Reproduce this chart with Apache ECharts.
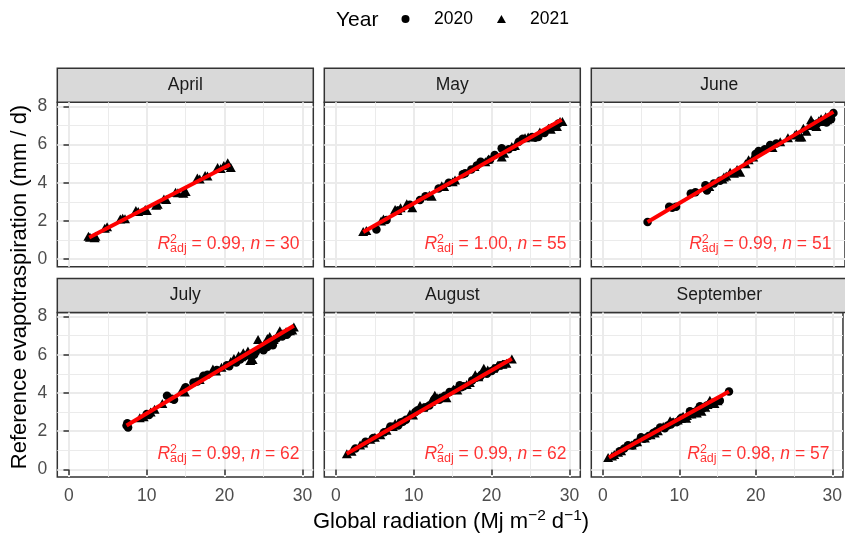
<!DOCTYPE html>
<html><head><meta charset="utf-8">
<script src="https://cdn.jsdelivr.net/npm/echarts@6/dist/echarts.min.js"></script>
<style>html,body{margin:0;padding:0;background:#fff}#chart{width:845px;height:536px}</style>
</head><body><div id="chart"></div>
<script>
// ---------------- DATA ----------------
const months = ['April', 'May', 'June', 'July', 'August', 'September'];
const years = ['2020', '2021'];
const xTicks = [0, 10, 20, 30];
const xMinor = [5, 15, 25];
const yTicks = [0, 2, 4, 6, 8];
const yMinor = [1, 3, 5, 7];
const r2adj = ['0.99', '1.00', '0.99', '0.99', '0.99', '0.98'];
const nObs = [30, 55, 51, 62, 62, 57];

const apr2020 = [];
const apr2021 = [[2.5,1.2],[2.7,1.15],[3.3,1.12],[3.4,1.2],[4.6,1.62],[4.9,1.7],[6.6,2.1],[6.9,2.15],[7.2,2.12],[8.6,2.55],[8.9,2.5],[9.8,2.6],[10.0,2.55],[11.2,2.82],[11.4,2.88],[12.2,3.15],[12.5,3.12],[13.7,3.5],[14.0,3.48],[14.7,3.45],[15.0,3.55],[16.5,4.25],[16.8,4.2],[17.5,4.38],[17.8,4.35],[19.1,4.8],[19.5,4.75],[19.9,4.9],[20.4,5.05],[20.8,4.8]];

const may2020 = [[5.2,1.55],[6.5,2.05],[8.0,2.55],[9.5,2.85],[10.8,3.1],[11.5,3.3],[13.2,3.7],[14.5,4.0],[16.3,4.45],[16.6,4.5],[17.4,4.7],[18.1,4.9],[18.6,5.1],[19.8,5.2],[20.4,5.45],[21.3,5.8],[22.2,5.75],[23.5,6.15],[24.0,6.3],[25.2,6.4],[25.6,6.35],[26.0,6.4],[26.8,6.6],[27.9,6.9],[28.6,7.1]];
const may2021 = [[3.5,1.45],[3.9,1.5],[5.8,2.0],[6.1,2.1],[7.6,2.6],[7.9,2.55],[8.3,2.7],[9.1,2.9],[9.8,2.7],[12.0,3.35],[12.3,3.3],[13.6,3.85],[13.9,3.8],[15.0,4.05],[15.3,4.15],[17.8,4.85],[19.2,5.1],[19.6,5.25],[21.3,5.35],[21.6,5.55],[22.6,5.9],[23.0,5.95],[24.3,6.35],[24.7,6.4],[26.2,6.65],[27.3,6.85],[27.6,6.8],[28.4,6.95],[28.8,7.2],[29.1,7.2]];

const jun2020 = [[5.8,1.95],[8.6,2.74],[9.0,2.7],[9.5,2.74],[11.4,3.44],[12.0,3.5],[13.3,3.87],[13.5,3.6],[14.4,3.96],[15.2,4.1],[19.8,5.5],[20.2,5.66],[21.0,5.75],[21.7,5.97],[22.5,6.05],[27.8,7.1],[28.5,7.2],[29.0,7.15],[29.3,7.3],[29.6,7.33],[29.9,7.65],[29.5,7.45]];
const jun2021 = [[15.7,4.3],[16.0,4.35],[16.5,4.55],[17.0,4.5],[17.4,4.7],[17.8,4.55],[18.5,5.0],[18.9,5.2],[24.9,6.5],[25.1,6.55],[25.5,6.4],[25.75,6.4],[26.0,6.85],[26.4,6.7],[26.8,7.0],[27.0,7.3],[27.3,7.1],[27.7,6.95],[28.0,7.25],[28.3,7.35],[28.7,7.2],[29.1,7.3],[22.0,5.85],[23.0,6.15],[24.0,6.35],[15.5,4.2],[19.5,5.35],[13.8,3.8],[28.9,7.45]];

const jul2020 = [[7.4,2.3],[7.5,2.42],[7.6,2.2],[10.0,2.9],[10.3,2.85],[12.6,3.85],[13.2,3.7],[13.5,3.65],[16.0,4.55],[16.5,4.6],[17.3,4.9],[17.8,4.95],[20.3,5.45],[20.6,5.4],[21.5,5.6],[22.5,5.9],[23.3,5.95],[24.0,6.15],[25.0,6.23],[25.5,6.4],[26.2,6.5],[26.7,6.85],[27.4,6.95],[28.0,7.05],[28.4,7.2],[22.0,5.75],[23.8,6.0],[26.0,6.6],[19.0,5.2],[15.0,4.3]];
const jul2021 = [[9.1,2.7],[9.6,2.75],[10.5,3.0],[14.5,4.15],[14.9,4.05],[18.5,5.25],[18.9,5.15],[21.8,5.95],[22.1,5.9],[22.4,6.1],[22.8,6.0],[23.3,5.7],[23.6,5.75],[24.3,6.8],[24.6,6.35],[25.1,6.55],[25.8,6.95],[26.3,6.8],[27.1,7.25],[27.5,7.1],[27.9,7.2],[28.4,7.25],[28.7,7.3],[28.9,7.45],[20.8,5.65],[21.2,5.8],[19.6,5.35],[16.8,4.7],[12.0,3.45],[11.0,3.15],[23.0,6.2],[25.5,6.85]];

const aug2020 = [[2.5,1.1],[3.8,1.45],[4.8,1.65],[6.2,1.95],[7.0,2.25],[8.0,2.3],[8.6,2.5],[9.0,2.6],[10.2,3.0],[11.5,3.25],[12.0,3.35],[12.7,3.7],[13.5,3.75],[14.0,3.85],[14.6,4.05],[15.3,4.15],[15.9,4.4],[16.4,4.35],[17.5,4.65],[18.0,4.8],[18.7,4.95],[19.4,5.0],[20.0,5.15],[20.5,5.3],[21.1,5.45],[21.6,5.5],[8.3,2.45],[10.5,3.1],[13.3,3.65],[16.1,4.3],[18.5,4.85]];
const aug2021 = [[1.4,0.82],[2.0,0.95],[3.1,1.28],[3.5,1.38],[4.4,1.58],[5.0,1.68],[5.7,1.82],[7.3,2.25],[7.6,2.4],[9.5,2.9],[9.9,2.85],[10.8,3.35],[11.2,3.25],[12.7,3.88],[13.0,3.75],[14.2,3.75],[15.1,4.2],[15.6,4.15],[16.8,4.45],[17.2,4.55],[17.9,4.95],[18.3,4.85],[19.0,5.3],[19.5,5.2],[20.2,5.3],[20.8,5.45],[21.4,5.5],[21.9,5.55],[22.6,5.78],[12.2,3.55],[6.5,2.05]];

const sep2020 = [[2.8,1.1],[3.3,1.26],[3.9,1.25],[5.0,1.69],[5.4,1.6],[6.0,1.75],[7.5,2.2],[8.1,2.15],[8.5,2.3],[9.1,2.45],[9.7,2.48],[10.1,2.6],[10.6,2.65],[11.4,3.05],[11.8,2.9],[12.3,3.05],[12.7,3.3],[13.1,3.2],[13.6,3.35],[14.2,3.45],[6.6,1.9],[4.4,1.4],[8.9,2.35],[10.3,2.7],[12.0,3.0],[7.0,2.0],[2.2,0.95],[15.3,3.6],[16.5,4.08],[12.5,3.15]];
const sep2021 = [[0.7,0.62],[1.2,0.7],[2.0,0.9],[2.4,0.98],[3.8,1.28],[4.5,1.45],[6.25,1.82],[6.8,1.9],[7.9,2.25],[8.8,2.55],[9.2,2.5],[10.5,2.78],[10.9,2.68],[11.6,2.9],[12.3,2.95],[12.9,3.05],[13.4,3.25],[14.0,3.62],[14.3,3.5],[14.6,3.45],[15.0,3.6],[5.5,1.65],[7.2,2.02],[9.8,2.58],[11.0,2.82],[13.7,3.4],[1.5,0.78]];

// fitted regression lines: [start, end]
const fitApr = [[2.6,1.14],[20.7,4.96]];
const fitMay = [[3.5,1.43],[29.0,7.3]];
const fitJun = [[5.8,1.95],[29.9,7.71]];
const fitJul = [[7.4,2.3],[28.9,7.52]];
const fitAug = [[1.37,0.82],[22.6,5.79]];
const fitSep = [[0.8,0.62],[16.5,4.08]];

// ---------------- CHART ----------------
const pts2020 = [apr2020, may2020, jun2020, jul2020, aug2020, sep2020];
const pts2021 = [apr2021, may2021, jun2021, jul2021, aug2021, sep2021];
const fits = [fitApr, fitMay, fitJun, fitJul, fitAug, fitSep];

const FONT = '"Liberation Sans", Arial, Helvetica, sans-serif';
const colLeft = [57.3, 324.3, 591.3];
const rowTop = [102.3, 312.5];
const W = 256, H = 164.4, STRIP = 34;
const XMIN = -1.5, XMAX = 31.4, YMIN = -0.39, YMAX = 8.21;
const ANN_X = 29.7, ANN_Y = 0.8;

const grids = [], xAxes = [], yAxes = [], series = [], graphics = [];
const red = '#ff0000';

for (let i = 0; i < 6; i++) {
  const r = Math.floor(i / 3), c = i % 3;
  grids.push({ left: colLeft[c], top: rowTop[r], width: W, height: H, show: true,
    borderColor: '#333333', borderWidth: 1.5, backgroundColor: '#ffffff' });
  // major x axis
  xAxes.push({ gridIndex: i, type: 'value', min: XMIN, max: XMAX, position: 'bottom',
    axisLine: { show: false },
    axisTick: { show: r === 1, length: 5.5, lineStyle: { color: '#333333', width: 1.5 }, customValues: xTicks },
    axisLabel: { show: r === 1, customValues: xTicks, color: '#4d4d4d', fontSize: 17.5, fontFamily: FONT, margin: 10 },
    splitLine: { show: true, lineStyle: { color: '#ebebeb', width: 2 } } });
  // minor x axis (grid lines only)
  xAxes.push({ gridIndex: i, type: 'value', min: XMIN, max: XMAX, position: 'top',
    axisLine: { show: false }, axisTick: { show: false, customValues: xMinor },
    axisLabel: { show: false, customValues: xMinor },
    splitLine: { show: true, lineStyle: { color: '#ebebeb', width: 1 } } });
  yAxes.push({ gridIndex: i, type: 'value', min: YMIN, max: YMAX, position: 'left',
    axisLine: { show: false },
    axisTick: { show: c === 0, length: 5.5, lineStyle: { color: '#333333', width: 1.5 }, customValues: yTicks },
    axisLabel: { show: c === 0, customValues: yTicks, color: '#4d4d4d', fontSize: 17.5, fontFamily: FONT, margin: 10 },
    splitLine: { show: true, lineStyle: { color: '#ebebeb', width: 2 } } });
  yAxes.push({ gridIndex: i, type: 'value', min: YMIN, max: YMAX, position: 'right',
    axisLine: { show: false }, axisTick: { show: false, customValues: yMinor },
    axisLabel: { show: false, customValues: yMinor },
    splitLine: { show: true, lineStyle: { color: '#ebebeb', width: 1 } } });

  const xi = 2 * i, yi = 2 * i;
  series.push({ type: 'scatter', name: years[0], xAxisIndex: xi, yAxisIndex: yi, data: pts2020[i],
    symbol: 'circle', symbolSize: 8.5, itemStyle: { color: '#000000', opacity: 1 }, silent: true, z: 3 });
  series.push({ type: 'scatter', name: years[1], xAxisIndex: xi, yAxisIndex: yi, data: pts2021[i],
    symbol: 'triangle', symbolSize: [10, 9], itemStyle: { color: '#000000', opacity: 1 }, silent: true, z: 3 });
  series.push({ type: 'line', name: 'fit' + i, xAxisIndex: xi, yAxisIndex: yi, data: fits[i],
    showSymbol: false, symbol: 'none', lineStyle: { color: red, width: 4 }, silent: true, z: 4 });
  series.push({ type: 'scatter', name: 'ann' + i, xAxisIndex: xi, yAxisIndex: yi,
    data: [[ANN_X, ANN_Y]], symbolSize: 1, itemStyle: { color: 'rgba(0,0,0,0)' }, silent: true, z: 5,
    label: { show: true, position: 'left', distance: 0,
      formatter: '{R|R}{sup|2}{sub|adj}{t| = ' + r2adj[i] + ', }{n|n}{t| = ' + nObs[i] + '}',
      rich: {
        R: { fontStyle: 'italic', fontSize: 17.5, fontFamily: FONT, color: red, lineHeight: 22, align: 'left' },
        sup: { fontSize: 12.5, fontFamily: FONT, color: red, lineHeight: 11, verticalAlign: 'top', width: 0, align: 'left' },
        sub: { fontSize: 12.5, fontFamily: FONT, color: red, lineHeight: 8, verticalAlign: 'bottom', align: 'left' },
        t: { fontSize: 17.5, fontFamily: FONT, color: red, lineHeight: 22, align: 'left' },
        n: { fontStyle: 'italic', fontSize: 17.5, fontFamily: FONT, color: red, lineHeight: 22, align: 'left' }
      } } });

  // strip
  graphics.push({ type: 'rect', shape: { x: colLeft[c], y: rowTop[r] - STRIP, width: W, height: STRIP },
    style: { fill: '#d9d9d9', stroke: '#333333', lineWidth: 1.5 } });
  graphics.push({ type: 'text', x: colLeft[c] + W / 2, y: rowTop[r] - STRIP / 2,
    style: { text: months[i], fill: '#1a1a1a', font: '17.5px ' + FONT, align: 'center', verticalAlign: 'middle' } });
}

// axis titles & legend title
graphics.push({ type: 'text', x: 20, y: 287, rotation: Math.PI / 2,
  style: { text: 'Reference evapotraspiration (mm / d)', fill: '#000', font: '22px ' + FONT, align: 'center', verticalAlign: 'middle' } });
graphics.push({ type: 'text', x: 451, y: 522,
  style: { text: 'Global radiation (Mj m{sup|\u22122} d{sup|\u22121})', fill: '#000', font: '22px ' + FONT,
    fontSize: 22, fontFamily: FONT, lineHeight: 28, align: 'center', verticalAlign: 'middle',
    rich: { sup: { fontSize: 15.5, fontFamily: FONT, fill: '#000', lineHeight: 12, verticalAlign: 'top' } } } });
graphics.push({ type: 'text', x: 336, y: 20,
  style: { text: 'Year', fill: '#000', font: '21px ' + FONT, align: 'left', verticalAlign: 'middle' } });

const chart = echarts.init(document.getElementById('chart'), null, { renderer: 'canvas' });
chart.setOption({
  animation: false,
  backgroundColor: '#ffffff',
  legend: { data: [{ name: years[0], icon: 'circle' }, { name: years[1], icon: 'triangle' }],
    left: 396.5, top: 5, itemWidth: 9, itemHeight: 8, itemGap: 24, selectedMode: false,
    formatter: function (name) { return '{g| }{t|' + name + '}'; },
    textStyle: { fontSize: 17.5, fontFamily: FONT, color: '#000',
      rich: { g: { width: 19, fontSize: 17.5, fontFamily: FONT },
              t: { fontSize: 17.5, fontFamily: FONT, color: '#000' } } } },
  grid: grids, xAxis: xAxes, yAxis: yAxes, series: series, graphic: graphics
});
</script></body></html>
